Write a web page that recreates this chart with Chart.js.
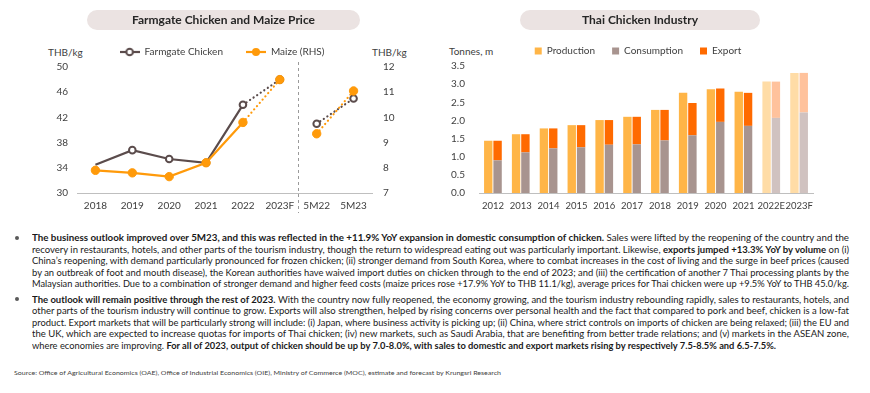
<!DOCTYPE html>
<html><head><meta charset="utf-8">
<script src="https://cdn.jsdelivr.net/npm/chart.js@4"></script>
<style>
body{margin:0;width:870px;height:393px;background:#fff;position:relative;overflow:hidden;font-family:Lato,sans-serif;}
.pill{position:absolute;background:#ebe3e2;border-radius:10px;height:20px;line-height:20px;text-align:center;font-weight:bold;font-size:12px;color:#262626;z-index:2}
.unit{position:absolute;font-size:10px;color:#404040;line-height:12px;}
canvas{position:absolute}
.para{position:absolute;left:32px;width:817px;font-size:9.6px;color:#1a1a1a;}
.ln{height:11.6px;line-height:11.6px;white-space:nowrap;}
.bul{position:absolute;left:15px;width:4px;height:4px;border-radius:50%;background:#595959}
.src{position:absolute;left:14px;top:368px;font-size:6.5px;color:#404040;white-space:nowrap;line-height:10px}
</style></head>
<body>
<div class="pill" style="left:87px;top:10px;width:273px;">Farmgate Chicken and Maize Price</div>
<div class="pill" style="left:520px;top:10px;width:240px;">Thai Chicken Industry</div>
<div class="unit" style="left:48px;top:46px;">THB/kg</div>
<div class="unit" style="left:372px;top:46px;">THB/kg</div>
<div class="unit" style="left:449px;top:45px;">Tonnes, m</div>
<canvas id="cL" width="416" height="189" style="left:14px;top:24px;"></canvas>
<canvas id="cR" width="416" height="184" style="left:430px;top:29px;"></canvas>

<div class="bul" style="top:236px"></div>
<div class="para" style="top:232px">
<div class="ln"><b>The business outlook improved over 5M23, and this was reflected in the +11.9% YoY expansion in domestic consumption of chicken.</b> Sales were lifted by the reopening of the country and the</div>
<div class="ln">recovery in restaurants, hotels, and other parts of the tourism industry, though the return to widespread eating out was particularly important. Likewise, <b>exports jumped +13.3% YoY by volume</b> on (i)</div>
<div class="ln">China’s reopening, with demand particularly pronounced for frozen chicken; (ii) stronger demand from South Korea, where to combat increases in the cost of living and the surge in beef prices (caused</div>
<div class="ln">by an outbreak of foot and mouth disease), the Korean authorities have waived import duties on chicken through to the end of 2023; and (iii) the certification of another 7 Thai processing plants by the</div>
<div class="ln">Malaysian authorities. Due to a combination of stronger demand and higher feed costs (maize prices rose +17.9% YoY to THB 11.1/kg), average prices for Thai chicken were up +9.5% YoY to THB 45.0/kg.</div>
</div>
<div class="bul" style="top:297px"></div>
<div class="para" style="top:293.5px">
<div class="ln"><b>The outlook will remain positive through the rest of 2023.</b> With the country now fully reopened, the economy growing, and the tourism industry rebounding rapidly, sales to restaurants, hotels, and</div>
<div class="ln">other parts of the tourism industry will continue to grow. Exports will also strengthen, helped by rising concerns over personal health and the fact that compared to pork and beef, chicken is a low-fat</div>
<div class="ln">product. Export markets that will be particularly strong will include: (i) Japan, where business activity is picking up; (ii) China, where strict controls on imports of chicken are being relaxed; (iii) the EU and</div>
<div class="ln">the UK, which are expected to increase quotas for imports of Thai chicken; (iv) new markets, such as Saudi Arabia, that are benefiting from better trade relations; and (v) markets in the ASEAN zone,</div>
<div class="ln" data-w="744">where economies are improving. <b>For all of 2023, output of chicken should be up by 7.0-8.0%, with sales to domestic and export markets rising by respectively 7.5-8.5% and 6.5-7.5%.</b></div>
</div>
<div class="src" data-w="487">Source: Office of Agricultural Economics (OAE), Office of Industrial Economics (OIE), Ministry of Commerce (MOC), estimate and forecast by Krungsri Research</div>

<script>
// ---- Left chart data ----
const periodsL = ['2018','2019','2020','2021','2022','2023F','5M22','5M23'];
const chickenPrice = [34.5, 36.8, 35.4, 34.8, 44.0, 48.0, 41.0, 45.0];
const maizePrice = [7.9, 7.8, 7.65, 8.2, 9.8, 11.5, 9.35, 11.05];
const leftAxisTicks = [30, 34, 38, 42, 46, 50];
const rightAxisTicks = [7, 8, 9, 10, 11, 12];

// ---- Right chart data ----
const yearsR = ['2012','2013','2014','2015','2016','2017','2018','2019','2020','2021','2022E','2023F'];
const production = [1.44, 1.62, 1.78, 1.87, 2.01, 2.10, 2.29, 2.76, 2.86, 2.79, 3.07, 3.31];
const consumption = [0.90, 1.12, 1.23, 1.26, 1.33, 1.34, 1.45, 1.59, 1.96, 1.85, 2.07, 2.22];
const exportVol = [0.54, 0.50, 0.55, 0.61, 0.68, 0.76, 0.84, 0.89, 0.92, 0.91, 1.00, 1.09];
const rightChartTicks = [0, 0.5, 1.0, 1.5, 2.0, 2.5, 3.0, 3.5];

const TXT = '#404040';
const FONT = 'Lato, sans-serif';
const CHICK = '#5b4c4c';
const MAIZE = '#FF9A0A';

function legendImg(color, hollow){
  const c = document.createElement('canvas'); c.width = 20; c.height = 10;
  const g = c.getContext('2d');
  g.strokeStyle = color; g.lineWidth = 2.2; g.beginPath(); g.moveTo(0,5); g.lineTo(20,5); g.stroke();
  g.beginPath(); g.arc(10,5, hollow ? 3.3 : 4, 0, Math.PI*2);
  if (hollow){ g.fillStyle = '#fff'; g.fill(); g.lineWidth = 2; g.stroke(); }
  else { g.fillStyle = color; g.fill(); }
  return c;
}

const sepDash = (color) => ({
  borderColor: c => c.p0DataIndex === 5 ? 'rgba(0,0,0,0)' : color,
  borderDash: c => c.p0DataIndex >= 4 ? [0.1, 4.2] : [],
  borderCapStyle: c => c.p0DataIndex >= 4 ? 'round' : 'butt'
});

const sepPlugin = {
  id: 'sep',
  beforeDatasetsDraw(chart){
    const x = chart.scales.x;
    const px = Math.round((x.getPixelForValue(5) + x.getPixelForValue(6)) / 2) + 0.5;
    const ctx = chart.ctx;
    ctx.save(); ctx.strokeStyle = '#9a9a9a'; ctx.lineWidth = 1; ctx.setLineDash([3,3]);
    ctx.beginPath(); ctx.moveTo(px, chart.chartArea.top - 5); ctx.lineTo(px, chart.height); ctx.stroke();
    ctx.restore();
  }
};

new Chart(document.getElementById('cL'), {
  type: 'line',
  data: {
    labels: periodsL,
    datasets: [
      { label: 'Farmgate Chicken', data: chickenPrice, yAxisID: 'y', order: 1,
        borderColor: CHICK, borderWidth: 2.2, backgroundColor: '#fff', tension: 0,
        pointRadius: chickenPrice.map((v,i) => i === 0 ? 0 : 3.3),
        pointBackgroundColor: '#fff', pointBorderColor: CHICK, pointBorderWidth: 2,
        segment: sepDash(CHICK) },
      { label: 'Maize (RHS)', data: maizePrice, yAxisID: 'y1', order: 0,
        borderColor: MAIZE, borderWidth: 2.2, backgroundColor: MAIZE, tension: 0,
        pointRadius: 4.2, pointBackgroundColor: MAIZE, pointBorderColor: MAIZE, pointBorderWidth: 1,
        segment: sepDash(MAIZE) }
    ]
  },
  options: {
    responsive: false, animation: false, devicePixelRatio: 1,
    layout: { padding: 0 },
    plugins: {
      tooltip: { enabled: false },
      legend: {
        position: 'top', maxHeight: 44,
        labels: {
          usePointStyle: true, pointStyleWidth: 20, padding: 23, color: TXT,
          font: { family: FONT, size: 10 },
          generateLabels: (chart) => chart.data.datasets.map((d, i) => ({
            text: d.label, datasetIndex: i, fillStyle: d.borderColor, strokeStyle: d.borderColor,
            lineWidth: 1, pointStyle: legendImg(d.borderColor, i === 0), hidden: false, fontColor: TXT
          }))
        }
      }
    },
    scales: {
      x: { type: 'category', offset: true, grid: { display: false, drawTicks: false, offset: true },
           border: { display: true, color: '#bfbfbf', width: 1 },
           ticks: { color: TXT, font: { family: FONT, size: 10 }, padding: 7, maxRotation: 0, autoSkip: false },
           afterFit: s => { s.height = 20; } },
      y: { position: 'left', min: leftAxisTicks[0], max: leftAxisTicks[leftAxisTicks.length-1],
           grid: { display: false, drawTicks: false }, border: { display: false },
           afterBuildTicks: s => { s.ticks = leftAxisTicks.map(v => ({ value: v })); },
           ticks: { color: TXT, font: { family: FONT, size: 10 }, padding: 9 },
           afterFit: s => { s.width = 63; } },
      y1: { position: 'right', min: rightAxisTicks[0], max: rightAxisTicks[rightAxisTicks.length-1],
           grid: { display: false, drawTicks: false }, border: { display: false },
           afterBuildTicks: s => { s.ticks = rightAxisTicks.map(v => ({ value: v })); },
           ticks: { color: TXT, font: { family: FONT, size: 10 }, padding: 11 },
           afterFit: s => { s.width = 58; } }
    }
  },
  plugins: [sepPlugin]
});

const isFc = c => c.dataIndex !== undefined && /[EF]$/.test(yearsR[c.dataIndex]);
new Chart(document.getElementById('cR'), {
  type: 'bar',
  data: {
    labels: yearsR,
    datasets: [
      { label: 'Production', data: production, stack: 'p',
        backgroundColor: c => isFc(c) ? '#FFDCA6' : '#FFB547' },
      { label: 'Consumption', data: consumption, stack: 'c',
        backgroundColor: c => isFc(c) ? '#D0C2C0' : '#A8948F' },
      { label: 'Export', data: exportVol, stack: 'c',
        backgroundColor: c => isFc(c) ? '#FFC29C' : '#FF6A00' }
    ]
  },
  options: {
    responsive: false, animation: false, devicePixelRatio: 1,
    layout: { padding: 0 },
    datasets: { bar: { categoryPercentage: 0.67, barPercentage: 0.9, borderWidth: 0 } },
    plugins: {
      tooltip: { enabled: false },
      legend: {
        position: 'top', maxHeight: 39,
        labels: { boxWidth: 7, boxHeight: 7, padding: 17, color: TXT, font: { family: FONT, size: 10 } }
      }
    },
    scales: {
      x: { stacked: true, grid: { display: false, drawTicks: false },
           border: { display: true, color: '#bfbfbf', width: 1 },
           ticks: { color: TXT, font: { family: FONT, size: 9.5 }, padding: 7, maxRotation: 0, autoSkip: false },
           afterFit: s => { s.height = 20; } },
      y: { stacked: true, position: 'left', min: 0, max: 3.5,
           grid: { display: false, drawTicks: false }, border: { display: false },
           afterBuildTicks: s => { s.ticks = rightChartTicks.map(v => ({ value: v })); },
           ticks: { color: TXT, font: { family: FONT, size: 10 }, padding: 14, callback: v => Number(v).toFixed(1) },
           afterFit: s => { s.width = 49; } },
      y2: { position: 'right', display: true, min: 0, max: 1,
           grid: { display: false, drawTicks: false }, border: { display: false },
           ticks: { display: false }, afterFit: s => { s.width = 33; } }
    }
  }
});

// fit each text line to the reference line width
document.querySelectorAll('.ln, .src').forEach(el => {
  const W = el.dataset.w ? +el.dataset.w : 817;
  const sp = document.createElement('span');
  while (el.firstChild) sp.appendChild(el.firstChild);
  el.appendChild(sp);
  sp.style.display = 'inline-block';
  sp.style.whiteSpace = 'nowrap';
  const w = sp.getBoundingClientRect().width;
  sp.style.transformOrigin = 'left center';
  sp.style.transform = 'scaleX(' + (W / w) + ')';
});
</script>
</body></html>
